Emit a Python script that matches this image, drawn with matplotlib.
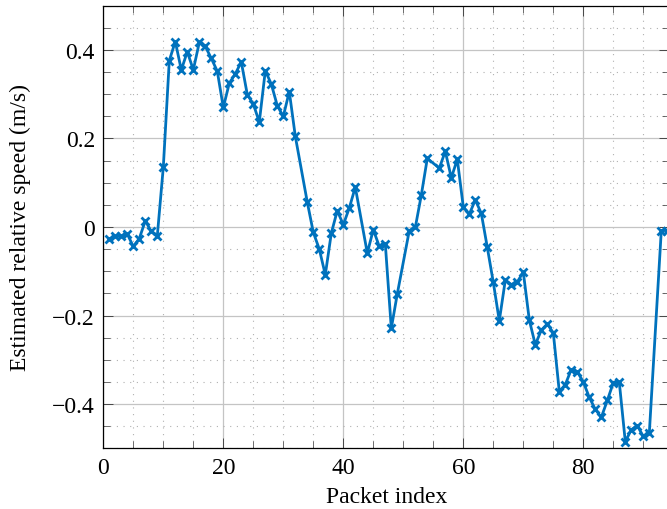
import numpy as np
import matplotlib
matplotlib.use("Agg")
import matplotlib.pyplot as plt
from matplotlib.ticker import MultipleLocator, FixedLocator

# packet index (some packets missing) and estimated relative speed (m/s)
packet_idx = [1, 2, 3, 4, 5, 6, 7, 8, 9, 10,
              11, 12, 13, 14, 15, 16, 17, 18, 19, 20,
              21, 22, 23, 24, 25, 26, 27, 28, 29, 30,
              31, 32, 34, 35, 36, 37, 38, 39, 40,
              41, 42, 44, 45, 46, 47, 48, 49,
              51, 52, 53, 54, 56, 57, 58, 59, 60,
              61, 62, 63, 64, 65, 66, 67, 68, 69, 70,
              71, 72, 73, 74, 75, 76, 77, 78, 79, 80,
              81, 82, 83, 84, 85, 86, 87, 88, 89, 90,
              91, 93, 94]
speed = [-0.027, -0.021, -0.021, -0.016, -0.044, -0.026, 0.014, -0.010, -0.020, 0.135,
         0.376, 0.419, 0.355, 0.396, 0.355, 0.417, 0.408, 0.381, 0.352, 0.270,
         0.325, 0.346, 0.373, 0.299, 0.278, 0.237, 0.353, 0.323, 0.274, 0.250,
         0.306, 0.205, 0.056, -0.012, -0.050, -0.108, -0.014, 0.037, 0.005,
         0.043, 0.090, -0.059, -0.006, -0.044, -0.038, -0.229, -0.151,
         -0.008, -0.001, 0.072, 0.155, 0.133, 0.171, 0.111, 0.153, 0.045,
         0.029, 0.061, 0.031, -0.046, -0.125, -0.212, -0.120, -0.130, -0.124, -0.102,
         -0.210, -0.266, -0.233, -0.219, -0.239, -0.372, -0.356, -0.322, -0.327, -0.350,
         -0.385, -0.412, -0.430, -0.392, -0.352, -0.351, -0.485, -0.458, -0.449, -0.473,
         -0.466, -0.008, -0.008]

xticks = [0, 20, 40, 60, 80]
yticks = [-0.4, -0.2, 0.0, 0.2, 0.4]
ytick_labels = ['\u22120.4', '\u22120.2', '0', '0.2', '0.4']

plt.rcParams['font.family'] = ['Liberation Serif', 'DejaVu Serif']
plt.rcParams['font.size'] = 17

W, H = 667, 510
fig = plt.figure(figsize=(W / 100, H / 100), dpi=100)
# right edge of the axes sits just past the picture edge (cropped in the original)
ax = fig.add_axes([103.3 / W, 60.7 / H, 565.8 / W, 442.6 / H])

ax.plot(packet_idx, speed, color='#0072BD', linewidth=2.0,
        marker='x', markersize=5.2, markeredgewidth=2.0, zorder=3)

ax.set_xlim(0, 94.3)
ax.set_ylim(-0.5, 0.5)
ax.xaxis.set_major_locator(FixedLocator(xticks))
ax.xaxis.set_minor_locator(MultipleLocator(5))
ax.yaxis.set_major_locator(FixedLocator(yticks))
ax.set_yticklabels(ytick_labels)
ax.yaxis.set_minor_locator(MultipleLocator(0.05))

# grid: solid major, dotted minor
ax.grid(which='major', color='#c4c4c4', linewidth=0.9, linestyle='-')
ax.grid(which='minor', color='#b0b0b0', linewidth=0.8, linestyle=(0, (1, 5)))
ax.set_axisbelow(True)

ax.tick_params(which='both', direction='in', top=True, right=True, color='#333333')
ax.tick_params(which='major', length=7.2, width=0.6, pad=6)
ax.tick_params(which='minor', length=4.8, width=0.5)
for s in ax.spines.values():
    s.set_linewidth(0.9)

ax.set_xlabel('Packet index', labelpad=6)
ax.set_ylabel('Estimated relative speed (m/s)', labelpad=15)

fig.savefig('out.png', dpi=100)
